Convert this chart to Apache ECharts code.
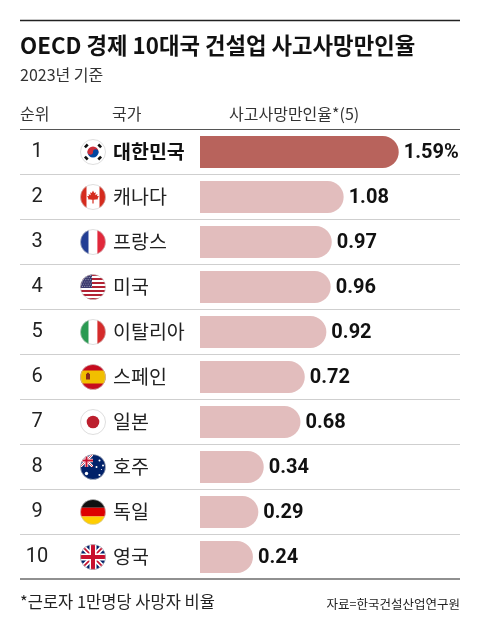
<!DOCTYPE html>
<html>
<head>
<meta charset="utf-8">
<script src="https://cdn.jsdelivr.net/npm/echarts@6/dist/echarts.min.js"></script>
<style>
  html, body { margin: 0; padding: 0; background: #fff; }
  #main { width: 480px; height: 628px; }
</style>
</head>
<body>
<div id="main"></div>
<script>
// 데이터
var ranks = ['1', '2', '3', '4', '5', '6', '7', '8', '9', '10'];
var countries = ['대한민국', '캐나다', '프랑스', '미국', '이탈리아', '스페인', '일본', '호주', '독일', '영국'];
var flagKeys = ['kr', 'ca', 'fr', 'us', 'it', 'es', 'jp', 'au', 'de', 'gb'];
var rates = [1.59, 1.08, 0.97, 0.96, 0.92, 0.72, 0.68, 0.34, 0.29, 0.24];

var KR_FONT = '"Noto Sans CJK KR", sans-serif';
var NUM_FONT = '"Liberation Sans Narrow", "Roboto", sans-serif';
var AXIS_MIN = -0.25;   // 막대가 0보다 조금 앞에서 시작
var DARK = '#b8635c';
var LIGHT = '#e2bdbd';

// 국기 (원형 svg)
function flagSvg(inner) {
    var s = '<svg xmlns="http://www.w3.org/2000/svg" width="52" height="52" viewBox="0 0 26 26">' +
        '<defs><clipPath id="c"><circle cx="13" cy="13" r="12.6"/></clipPath></defs>' +
        '<g clip-path="url(#c)">' + inner + '</g>' +
        '<circle cx="13" cy="13" r="12.5" fill="none" stroke="#c8c8c8" stroke-width="0.6"/></svg>';
    return 'data:image/svg+xml;charset=utf-8,' + encodeURIComponent(s);
}

function usStripes() {
    var s = '';
    for (var k = 0; k < 13; k++) {
        s += '<rect x="0" y="' + (k * 2) + '" width="26" height="2" fill="' + (k % 2 ? '#fff' : '#b22234') + '"/>';
    }
    s += '<rect x="0" y="0" width="12" height="14" fill="#3c3b6e"/>';
    for (var r = 0; r < 6; r++) {
        for (var c = 0; c < 5; c++) {
            s += '<circle cx="' + (1.5 + c * 2.2 + (r % 2) * 1.1) + '" cy="' + (1.3 + r * 2.2) + '" r="0.45" fill="#fff"/>';
        }
    }
    return s;
}

var unionJack = '<path d="M0,0 L26,26 M26,0 L0,26" stroke="#fff" stroke-width="5"/>' +
    '<path d="M0,0 L26,26 M26,0 L0,26" stroke="#c8102e" stroke-width="1.6"/>' +
    '<path d="M13,0 V26 M0,13 H26" stroke="#fff" stroke-width="7"/>' +
    '<path d="M13,0 V26 M0,13 H26" stroke="#c8102e" stroke-width="4"/>';

var flags = {
    kr: flagSvg('<rect width="26" height="26" fill="#fff"/>' +
        '<path d="M7.5,13 A5.5,5.5 0 0 1 18.5,13 Z" fill="#cd2e3a"/>' +
        '<path d="M7.5,13 A5.5,5.5 0 0 0 18.5,13 Z" fill="#0047a0"/>' +
        '<circle cx="10.25" cy="13" r="2.75" fill="#cd2e3a"/><circle cx="15.75" cy="13" r="2.75" fill="#0047a0"/>' +
        '<g fill="#111"><rect x="4.3" y="5.6" width="4" height="2.6" transform="rotate(-45 6.3 6.9)"/>' +
        '<rect x="17.7" y="5.6" width="4" height="2.6" transform="rotate(45 19.7 6.9)"/>' +
        '<rect x="4.3" y="17.8" width="4" height="2.6" transform="rotate(45 6.3 19.1)"/>' +
        '<rect x="17.7" y="17.8" width="4" height="2.6" transform="rotate(-45 19.7 19.1)"/></g>'),
    ca: flagSvg('<rect width="26" height="26" fill="#fff"/><rect width="6.5" height="26" fill="#d52b1e"/>' +
        '<rect x="19.5" width="6.5" height="26" fill="#d52b1e"/>' +
        '<polygon fill="#d52b1e" points="13,6.5 14.2,9 15.8,8.3 15.3,11.2 17.5,10 17,12 19,12.3 17.6,14.3 18.2,15.3 13.6,15.7 13.6,19.5 12.4,19.5 12.4,15.7 7.8,15.3 8.4,14.3 7,12.3 9,12 8.5,10 10.7,11.2 10.2,8.3 11.8,9"/>'),
    fr: flagSvg('<rect width="8.7" height="26" fill="#233e94"/><rect x="8.7" width="8.7" height="26" fill="#fff"/>' +
        '<rect x="17.4" width="8.6" height="26" fill="#e1283b"/>'),
    us: flagSvg(usStripes()),
    it: flagSvg('<rect width="8.7" height="26" fill="#2a9a52"/><rect x="8.7" width="8.7" height="26" fill="#fff"/>' +
        '<rect x="17.4" width="8.6" height="26" fill="#d52b2b"/>'),
    es: flagSvg('<rect width="26" height="26" fill="#c60b1e"/><rect y="6.5" width="26" height="13" fill="#f1bf00"/>' +
        '<rect x="6" y="10" width="4" height="5.5" fill="#8b2a1a"/><rect x="6.8" y="8.8" width="2.4" height="1.4" fill="#8b2a1a"/>'),
    jp: flagSvg('<rect width="26" height="26" fill="#fff"/><circle cx="13" cy="13" r="6.3" fill="#bc1f2d"/>'),
    au: flagSvg('<rect width="26" height="26" fill="#012169"/><svg x="0" y="0" width="13" height="13" viewBox="0 0 26 26">' + unionJack + '</svg>' +
        '<g fill="#fff"><circle cx="6.5" cy="19.5" r="1.7"/><circle cx="19.5" cy="6.5" r="1"/><circle cx="23" cy="11.5" r="1"/>' +
        '<circle cx="16.5" cy="13" r="1"/><circle cx="19.5" cy="21" r="1.1"/><circle cx="21.5" cy="15.5" r="0.6"/></g>'),
    de: flagSvg('<rect width="26" height="8.7" fill="#111"/><rect y="8.7" width="26" height="8.7" fill="#dd0000"/>' +
        '<rect y="17.4" width="26" height="8.6" fill="#ffce00"/>'),
    gb: flagSvg('<rect width="26" height="26" fill="#012169"/>' + unionJack)
};

var rich = {
    r: { width: 34, align: 'center', fontSize: 20, fontFamily: NUM_FONT, color: '#222', lineHeight: 26 },
    s: { width: 26, height: 26 },
    n: { fontSize: 19.5, fontFamily: KR_FONT, color: '#222', padding: [0, 0, 0, 7], lineHeight: 26 },
    nb: { fontSize: 19.5, fontFamily: KR_FONT, fontWeight: 'bold', color: '#111', padding: [0, 0, 0, 7], lineHeight: 26 }
};
flagKeys.forEach(function (k) {
    rich['f_' + k] = { width: 26, height: 26, backgroundColor: { image: flags[k] } };
});

var myChart = echarts.init(document.getElementById('main'), null, { renderer: 'canvas' });

// 가로줄
var lines = [
    { type: 'line', shape: { x1: 20, y1: 20.5, x2: 460, y2: 20.5 }, style: { stroke: '#222', lineWidth: 1.5 } },
    { type: 'line', shape: { x1: 20, y1: 129.5, x2: 460, y2: 129.5 }, style: { stroke: '#555', lineWidth: 1.2 } },
    { type: 'line', shape: { x1: 20, y1: 579, x2: 460, y2: 579 }, style: { stroke: '#222', lineWidth: 1.2 } }
];
for (var k = 1; k < 10; k++) {
    lines.push({ type: 'line', shape: { x1: 20, y1: 129.5 + 45 * k, x2: 460, y2: 129.5 + 45 * k },
        style: { stroke: '#cfcfcf', lineWidth: 1 } });
}

var texts = [
    { type: 'text', x: 20, y: 46, style: { text: 'OECD 경제 10대국 건설업 사고사망만인율', font: 'bold 22.3px ' + KR_FONT, fill: '#111', verticalAlign: 'middle' } },
    { type: 'text', x: 20, y: 75, style: { text: '2023년 기준', font: '16px ' + KR_FONT, fill: '#333', verticalAlign: 'middle' } },
    { type: 'text', x: 20, y: 114, style: { text: '순위', font: '16px ' + KR_FONT, fill: '#333', verticalAlign: 'middle' } },
    { type: 'text', x: 112, y: 114, style: { text: '국가', font: '16px ' + KR_FONT, fill: '#333', verticalAlign: 'middle' } },
    { type: 'text', x: 229, y: 114, style: { text: '사고사망만인율*(5)', font: '16px ' + KR_FONT, fill: '#333', verticalAlign: 'middle' } },
    { type: 'text', x: 20, y: 602, style: { text: '*근로자 1만명당 사망자 비율', font: '16.5px ' + KR_FONT, fill: '#222', verticalAlign: 'middle' } },
    { type: 'text', x: 460, y: 604, style: { text: '자료=한국건설산업연구원', font: '12.5px ' + KR_FONT, fill: '#222', align: 'right', verticalAlign: 'middle' } }
];

var option = {
    animation: false,
    backgroundColor: '#fff',
    grid: { left: 200, top: 129.5, height: 450, right: 10 },
    xAxis: {
        type: 'value',
        min: AXIS_MIN,
        max: 2.25,
        show: false
    },
    yAxis: {
        type: 'category',
        inverse: true,
        data: countries,
        axisLine: { show: false },
        axisTick: { show: false },
        splitLine: { show: false },
        axisLabel: {
            align: 'left',
            margin: 180,
            formatter: function (name, i) {
                var nameTok = i === 0 ? 'nb' : 'n';
                return '{r|' + ranks[i] + '}{s|}{f_' + flagKeys[i] + '|}{' + nameTok + '|' + name + '}';
            },
            rich: rich
        }
    },
    series: [{
        type: 'custom',
        encode: { x: 0, y: 1 },
        data: rates.map(function (v, i) { return [v, i]; }),
        renderItem: function (params, api) {
            var idx = api.value(1);
            var v = api.value(0);
            var start = api.coord([AXIS_MIN, idx]);
            var end = api.coord([v, idx]);
            var h = api.size([0, 1])[1] * 0.71;
            return {
                type: 'group',
                children: [{
                    type: 'rect',
                    shape: { x: start[0], y: end[1] - h / 2, width: end[0] - start[0], height: h, r: [0, h / 2, h / 2, 0] },
                    style: { fill: idx === 0 ? DARK : LIGHT }
                }, {
                    type: 'text',
                    style: {
                        text: v.toFixed(2) + (idx === 0 ? '%' : ''),
                        x: end[0] + 5,
                        y: end[1] + 1,
                        align: 'left',
                        verticalAlign: 'middle',
                        font: 'bold 20px ' + NUM_FONT,
                        fill: '#111'
                    }
                }]
            };
        }
    }],
    graphic: lines.concat(texts)
};

myChart.setOption(option);
</script>
</body>
</html>
